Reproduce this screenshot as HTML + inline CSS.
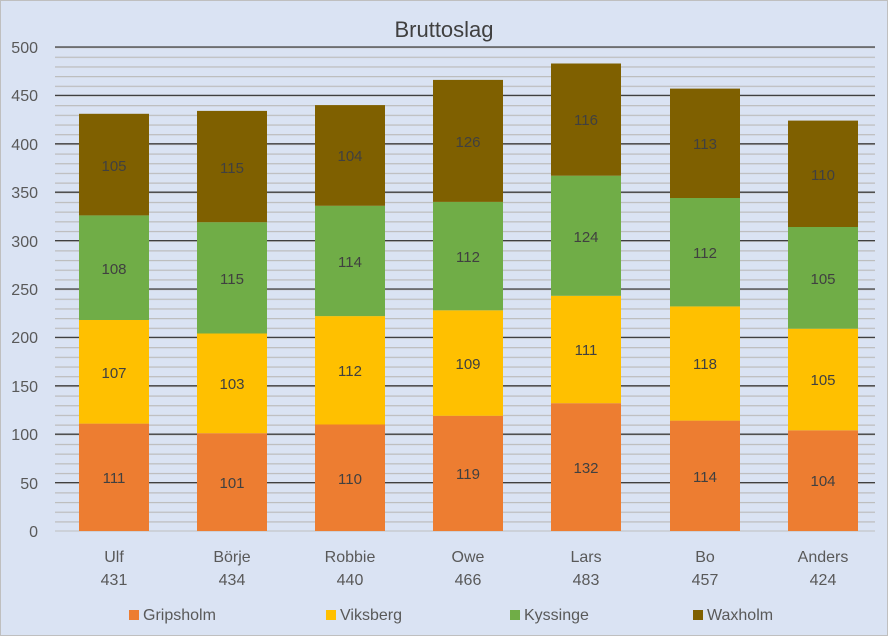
<!DOCTYPE html><html><head><meta charset="utf-8"><style>body{margin:0}svg{display:block;font-family:"Liberation Sans",sans-serif}</style></head><body>
<svg width="888" height="636" viewBox="0 0 888 636">
<defs><pattern id="mg" patternUnits="userSpaceOnUse" x="0" y="531" width="10" height="9.68"><rect x="0" y="0" width="10" height="1.2" fill="#bcbcbc"/></pattern></defs>
<rect x="0" y="0" width="888" height="636" fill="#dae3f3"/>
<rect x="0.5" y="0.5" width="887" height="635" fill="none" stroke="#bfbfbf"/>
<rect x="55" y="47" width="820" height="484" fill="url(#mg)"/>
<g stroke="#404040" stroke-width="1.3">
<line x1="55" x2="875" y1="47" y2="47"/><line x1="55" x2="875" y1="95.4" y2="95.4"/><line x1="55" x2="875" y1="143.8" y2="143.8"/><line x1="55" x2="875" y1="192.2" y2="192.2"/><line x1="55" x2="875" y1="240.6" y2="240.6"/><line x1="55" x2="875" y1="289" y2="289"/><line x1="55" x2="875" y1="337.4" y2="337.4"/><line x1="55" x2="875" y1="385.8" y2="385.8"/><line x1="55" x2="875" y1="434.2" y2="434.2"/><line x1="55" x2="875" y1="482.6" y2="482.6"/></g>
<line x1="55" x2="875" y1="531" y2="531" stroke="#bfbfbf"/>
<text x="444" y="37" font-size="22" text-anchor="middle" fill="#404040">Bruttoslag</text>
<g font-size="16" fill="#595959" text-anchor="end">
<text x="38" y="53">500</text><text x="38" y="101">450</text><text x="38" y="150">400</text><text x="38" y="198">350</text><text x="38" y="247">300</text><text x="38" y="295">250</text><text x="38" y="343">200</text><text x="38" y="392">150</text><text x="38" y="440">100</text><text x="38" y="489">50</text><text x="38" y="537">0</text></g>
<g>
<rect x="79" y="423.6" width="70" height="107.4" fill="#ed7d31"/><rect x="79" y="320" width="70" height="103.6" fill="#ffc000"/><rect x="79" y="215.4" width="70" height="104.6" fill="#70ad47"/><rect x="79" y="113.8" width="70" height="101.6" fill="#7f6000"/>
<rect x="197" y="433.2" width="70" height="97.8" fill="#ed7d31"/><rect x="197" y="333.5" width="70" height="99.7" fill="#ffc000"/><rect x="197" y="222.2" width="70" height="111.3" fill="#70ad47"/><rect x="197" y="110.9" width="70" height="111.3" fill="#7f6000"/>
<rect x="315" y="424.5" width="70" height="106.5" fill="#ed7d31"/><rect x="315" y="316.1" width="70" height="108.4" fill="#ffc000"/><rect x="315" y="205.8" width="70" height="110.3" fill="#70ad47"/><rect x="315" y="105.1" width="70" height="100.7" fill="#7f6000"/>
<rect x="433" y="415.8" width="70" height="115.2" fill="#ed7d31"/><rect x="433" y="310.3" width="70" height="105.5" fill="#ffc000"/><rect x="433" y="201.9" width="70" height="108.4" fill="#70ad47"/><rect x="433" y="79.9" width="70" height="122" fill="#7f6000"/>
<rect x="551" y="403.2" width="70" height="127.8" fill="#ed7d31"/><rect x="551" y="295.8" width="70" height="107.4" fill="#ffc000"/><rect x="551" y="175.7" width="70" height="120.1" fill="#70ad47"/><rect x="551" y="63.5" width="70" height="112.2" fill="#7f6000"/>
<rect x="670" y="420.6" width="70" height="110.4" fill="#ed7d31"/><rect x="670" y="306.4" width="70" height="114.2" fill="#ffc000"/><rect x="670" y="198" width="70" height="108.4" fill="#70ad47"/><rect x="670" y="88.6" width="70" height="109.4" fill="#7f6000"/>
<rect x="788" y="430.3" width="70" height="100.7" fill="#ed7d31"/><rect x="788" y="328.7" width="70" height="101.6" fill="#ffc000"/><rect x="788" y="227" width="70" height="101.7" fill="#70ad47"/><rect x="788" y="120.6" width="70" height="106.4" fill="#7f6000"/>
</g>
<g font-size="15" fill="#404040" text-anchor="middle">
<text x="114" y="483">111</text><text x="114" y="378">107</text><text x="114" y="274">108</text><text x="114" y="171">105</text>
<text x="232" y="488">101</text><text x="232" y="389">103</text><text x="232" y="284">115</text><text x="232" y="173">115</text>
<text x="350" y="484">110</text><text x="350" y="376">112</text><text x="350" y="267">114</text><text x="350" y="161">104</text>
<text x="468" y="479">119</text><text x="468" y="369">109</text><text x="468" y="262">112</text><text x="468" y="147">126</text>
<text x="586" y="473">132</text><text x="586" y="355">111</text><text x="586" y="242">124</text><text x="586" y="125">116</text>
<text x="705" y="482">114</text><text x="705" y="369">118</text><text x="705" y="258">112</text><text x="705" y="149">113</text>
<text x="823" y="486">104</text><text x="823" y="385">105</text><text x="823" y="284">105</text><text x="823" y="180">110</text>
</g>
<g font-size="16" fill="#595959" text-anchor="middle">
<text x="114" y="562">Ulf</text><text x="114" y="585">431</text>
<text x="232" y="562">Börje</text><text x="232" y="585">434</text>
<text x="350" y="562">Robbie</text><text x="350" y="585">440</text>
<text x="468" y="562">Owe</text><text x="468" y="585">466</text>
<text x="586" y="562">Lars</text><text x="586" y="585">483</text>
<text x="705" y="562">Bo</text><text x="705" y="585">457</text>
<text x="823" y="562">Anders</text><text x="823" y="585">424</text>
</g>
<g font-size="16" fill="#595959">
<rect x="129" y="610" width="10" height="10" fill="#ed7d31"/><text x="143" y="620">Gripsholm</text>
<rect x="326" y="610" width="10" height="10" fill="#ffc000"/><text x="340" y="620">Viksberg</text>
<rect x="510" y="610" width="10" height="10" fill="#70ad47"/><text x="524" y="620">Kyssinge</text>
<rect x="693" y="610" width="10" height="10" fill="#7f6000"/><text x="707" y="620">Waxholm</text>
</g>
</svg></body></html>
